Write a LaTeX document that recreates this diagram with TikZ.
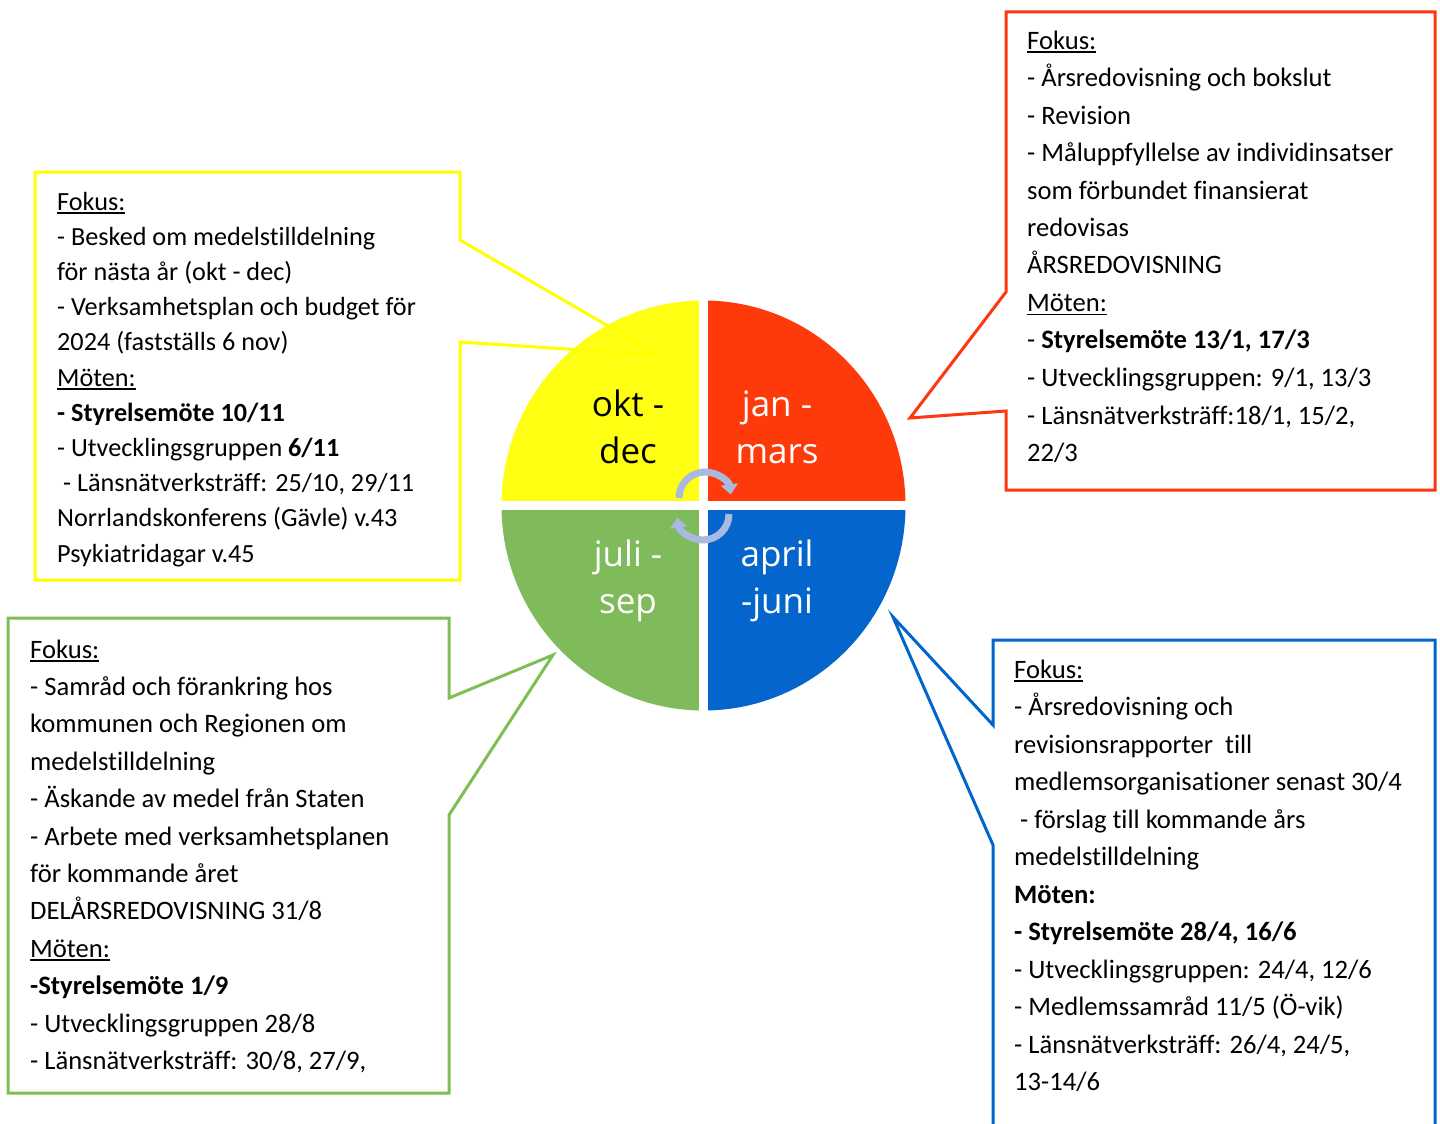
\documentclass[tikz,border=0pt]{standalone}
\usepackage{fontspec}
\setmainfont{Carlito}[Ligatures={NoCommon}]
\newfontfamily\segoe{Open Sans}
\usetikzlibrary{arrows.meta}
\definecolor{cY}{RGB}{255,255,20}
\definecolor{cR}{RGB}{255,58,10}
\definecolor{cB}{RGB}{4,102,204}
\definecolor{cG}{RGB}{127,187,90}
\definecolor{lY}{RGB}{255,255,0}
\definecolor{lR}{RGB}{255,55,15}
\definecolor{lB}{RGB}{0,102,204}
\definecolor{lG}{RGB}{125,190,85}
\definecolor{cArr}{RGB}{170,186,222}
\newcommand\Ul[1]{\setbox0=\hbox{#1}\rlap{\rule[-3.5pt]{\wd0}{1.4pt}}\box0}
\newcommand\Lines[2]{\vtop{\baselineskip=#1\lineskiplimit=-100pt\lineskip=0pt\relax #2}}
\newcommand\Cen[1]{\hbox to 0pt{\hss #1\hss}}
\tikzset{
  btext/.style={anchor=base west, inner sep=0pt, font=\fontsize{26.6}{30}\selectfont},
  ybtext/.style={anchor=base west, inner sep=0pt, font=\fontsize{26.2}{30}\selectfont},
  qtext/.style={anchor=base, inner sep=0pt, font=\segoe\fontsize{35}{40}\selectfont},
  callout/.style={line width=3pt, line join=miter},
  cyc/.style={line width=7pt, draw=cArr, -{Triangle[width=17pt,length=10pt]}}
}
\begin{document}
\begin{tikzpicture}[x=1pt,y=-1pt]
\useasboundingbox (0,0) rectangle (1440,1124);
\clip (0,0) rectangle (1440,1124);
\fill[white] (0,0) rectangle (1440,1124);
% circle quarters
\coordinate (c) at (703.5,505.5);
\fill[cY] (c) -- ++(-202,0) arc[start angle=180,end angle=270,x radius=202,y radius=205] -- cycle;
\fill[cR] (c) -- ++(0,-205) arc[start angle=270,end angle=360,x radius=202,y radius=205] -- cycle;
\fill[cB] (c) -- ++(202,0) arc[start angle=0,end angle=90,x radius=202,y radius=205] -- cycle;
\fill[cG] (c) -- ++(0,205) arc[start angle=90,end angle=180,x radius=202,y radius=205] -- cycle;
\draw[white,line width=9pt] (703.5,295) -- (703.5,716);
\draw[white,line width=9pt] (495,505.5) -- (912,505.5);
% cycle arrows
\draw[cyc] (679,498) arc[start angle=180,end angle=352,radius=26];
\draw[cyc] (729,514) arc[start angle=0,end angle=172,radius=26];
% quadrant labels
\node[qtext,text=black] (okt) at (628,416.7) {\Lines{46.5pt}{\Cen{okt -}\Cen{dec}}};
\node[qtext,text=white] (jan) at (777,416.7) {\Lines{46.5pt}{\Cen{jan -}\Cen{mars}}};
\node[qtext,text=white] (juli) at (628,566.7) {\Lines{46.5pt}{\Cen{juli -}\Cen{sep}}};
\node[qtext,text=white] (april) at (777,566.7) {\Lines{46.5pt}{\Cen{april}\Cen{-juni}}};
% callouts
\draw[callout,lY] (35,172) -- (460,172) -- (460,240) -- (658,355) -- (460,342) -- (460,580) -- (35,580) -- cycle;
\draw[callout,lR] (1006,12) -- (1435,12) -- (1435,490) -- (1006,490) -- (1006,411) -- (910,418) -- (1006,292) -- cycle;
\draw[callout,lG] (8,618) -- (449,618) -- (449,698) -- (553,655) -- (449,815) -- (449,1093) -- (8,1093) -- cycle;
\draw[callout,lB] (993,640) -- (1435,640) -- (1435,1140) -- (993,1140) -- (993,845) -- (893,617) -- (993,725) -- cycle;
% texts
\node[ybtext] (ytext) at (57,210) {\Lines{35.2pt}{%
\hbox{\Ul{Fokus:}}
\hbox{- Besked om medelstilldelning}
\hbox{för nästa år (okt - dec)}
\hbox{- Verksamhetsplan och budget för}
\hbox{2024 (fastställs 6 nov)}
\hbox{\Ul{Möten:}}
\hbox{\textbf{- Styrelsemöte 10/11}}
\hbox{- Utvecklingsgruppen \textbf{6/11}}
\hbox{\ - Länsnätverksträff: 25/10, 29/11}
\hbox{Norrlandskonferens (Gävle) v.43}
\hbox{Psykiatridagar v.45}}};
\node[btext] (rtext) at (1027,49) {\Lines{37.5pt}{%
\hbox{\Ul{Fokus:}}
\hbox{- Årsredovisning och bokslut}
\hbox{- Revision}
\hbox{- Måluppfyllelse av individinsatser}
\hbox{som förbundet finansierat}
\hbox{redovisas}
\hbox{ÅRSREDOVISNING}
\hbox{\Ul{Möten:}}
\hbox{- \textbf{Styrelsemöte 13/1, 17/3}}
\hbox{- Utvecklingsgruppen: 9/1, 13/3}
\hbox{- Länsnätverksträff:18/1, 15/2,}
\hbox{22/3}}};
\node[btext] (gtext) at (30,658) {\Lines{37.4pt}{%
\hbox{\Ul{Fokus:}}
\hbox{- Samråd och förankring hos}
\hbox{kommunen och Regionen om}
\hbox{medelstilldelning}
\hbox{- Äskande av medel från Staten}
\hbox{- Arbete med verksamhetsplanen}
\hbox{för kommande året}
\hbox{DELÅRSREDOVISNING 31/8}
\hbox{\Ul{Möten:}}
\hbox{\textbf{-Styrelsemöte 1/9}}
\hbox{- Utvecklingsgruppen 28/8}
\hbox{- Länsnätverksträff: 30/8, 27/9,}}};
\node[btext] (btext) at (1014,678) {\Lines{37.5pt}{%
\hbox{\Ul{Fokus:}}
\hbox{- Årsredovisning och}
\hbox{revisionsrapporter\ \ till}
\hbox{medlemsorganisationer senast 30/4}
\hbox{\ - förslag till kommande års}
\hbox{medelstilldelning}
\hbox{\textbf{Möten:}}
\hbox{\textbf{- Styrelsemöte 28/4, 16/6}}
\hbox{- Utvecklingsgruppen: 24/4, 12/6}
\hbox{- Medlemssamråd 11/5 (Ö-vik)}
\hbox{- Länsnätverksträff: 26/4, 24/5,}
\hbox{13-14/6}}};
\end{tikzpicture}
\end{document}
